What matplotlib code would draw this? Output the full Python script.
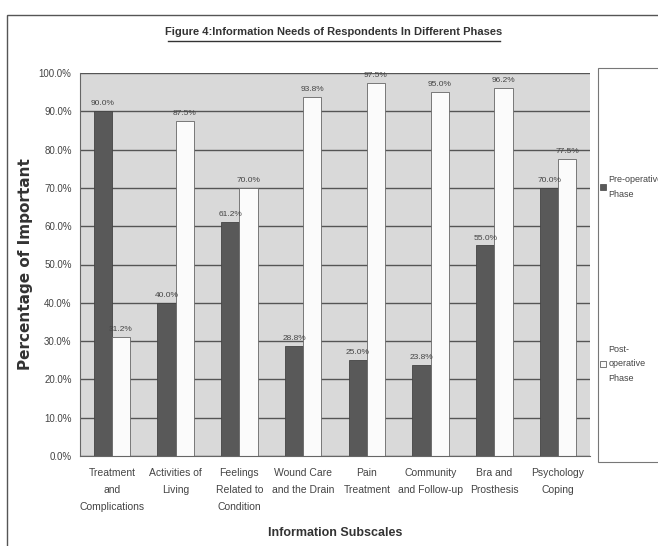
import matplotlib
matplotlib.use("Agg")
import matplotlib.pyplot as plt
import numpy as np
from matplotlib.patches import Rectangle, Patch

categories = ["Treatment\nand\nComplications", "Activities of\nLiving", "Feelings\nRelated to\nCondition",
              "Wound Care\nand the Drain", "Pain\nTreatment", "Community\nand Follow-up",
              "Bra and\nProsthesis", "Psychology\nCoping"]
pre_values = [90.0, 40.0, 61.2, 28.8, 25.0, 23.8, 55.0, 70.0]
post_values = [31.2, 87.5, 70.0, 93.8, 97.5, 95.0, 96.2, 77.5]
series_names = ["Pre-operative\nPhase", "Post-\noperative\nPhase"]
yticks = [0, 10, 20, 30, 40, 50, 60, 70, 80, 90, 100]

plt.rcParams['font.family'] = ["Liberation Sans", "DejaVu Sans"]

fig = plt.figure(figsize=(6.58, 5.46), dpi=100)
fig.patch.set_facecolor("white")

# outer chart border
fig.patches.append(Rectangle((7/658, -0.05), 1.0, (546-15)/546 + 0.05, transform=fig.transFigure,
                             fill=False, edgecolor="#555555", linewidth=1.0))

ax = fig.add_axes([80/658, (546-456)/546, (590-80)/658, (456-73)/546])
ax.set_facecolor("#d9d9d9")
x = np.arange(len(categories))
w = 0.285
ax.set_axisbelow(True)
ax.yaxis.grid(True, color="#555555", linewidth=1.0)
ax.bar(x - w/2, pre_values, w, color="#595959", edgecolor="#444444", linewidth=0.6)
ax.bar(x + w/2, post_values, w, color="#fbfbfb", edgecolor="#666666", linewidth=0.6)
for xi, v in zip(x - w/2, pre_values):
    ax.text(xi, v + 1.0, f"{v:.1f}%", ha="center", va="bottom", fontsize=6, color="#444444")
for xi, v in zip(x + w/2, post_values):
    ax.text(xi, v + 1.0, f"{v:.1f}%", ha="center", va="bottom", fontsize=6, color="#444444")

ax.set_xlim(-0.5, len(categories) - 0.5)
ax.set_ylim(0, 100)
ax.set_yticks(yticks)
ax.set_yticklabels([f"{t:.1f}%" for t in yticks], fontsize=7, color="#444444")
ax.set_xticks(x)
ax.set_xticklabels(categories, fontsize=7.5, color="#444444", linespacing=1.85)
ax.tick_params(axis="both", length=0, pad=6)
ax.tick_params(axis="x", pad=9)
for s in ["top", "right"]:
    ax.spines[s].set_visible(False)
ax.spines["left"].set_color("#666666")
ax.spines["bottom"].set_color("#666666")

ax.set_ylabel("Percentage of Important", fontsize=11, fontweight="bold", color="#333333",
              family="DejaVu Sans")
ax.yaxis.set_label_coords((33 - 80) / 510, 0.5)
fig.text(335/658, 1 - 533/546, "Information Subscales", ha="center", va="center",
         fontsize=9, fontweight="bold", color="#333333")
fig.text(334/658, 1 - 32/546, "Figure 4:Information Needs of Respondents In Different Phases",
         ha="center", va="center", fontsize=8, fontweight="bold", color="#333333")
# underline
fig.add_artist(plt.Line2D([168/658, 500/658], [1 - 41/546, 1 - 41/546], transform=fig.transFigure,
                          color="#333333", linewidth=1.0))

# legend box
fig.patches.append(Rectangle((598/658, 1 - 462/546), 0.2, (462-68)/546, transform=fig.transFigure,
                             fill=True, facecolor="white", edgecolor="#777777", linewidth=0.8))
h1 = Patch(facecolor="#595959", edgecolor="#444444", linewidth=0.5)
h2 = Patch(facecolor="#fbfbfb", edgecolor="#444444", linewidth=0.5)
fig.legend([h1], [series_names[0]], loc="center left", bbox_to_anchor=(592/658, 1 - 187/546),
           frameon=False, handlelength=0.6, handleheight=0.6, handletextpad=0.3,
           labelcolor="#444444", prop={"size": 6.5})
fig.legend([h2], [series_names[1]], loc="center left", bbox_to_anchor=(592/658, 1 - 364/546),
           frameon=False, handlelength=0.6, handleheight=0.6, handletextpad=0.3,
           labelcolor="#444444", prop={"size": 6.5})
for lg in fig.legends:
    for t in lg.get_texts():
        t.set_linespacing(1.8)

fig.savefig("out.png", dpi=100)
